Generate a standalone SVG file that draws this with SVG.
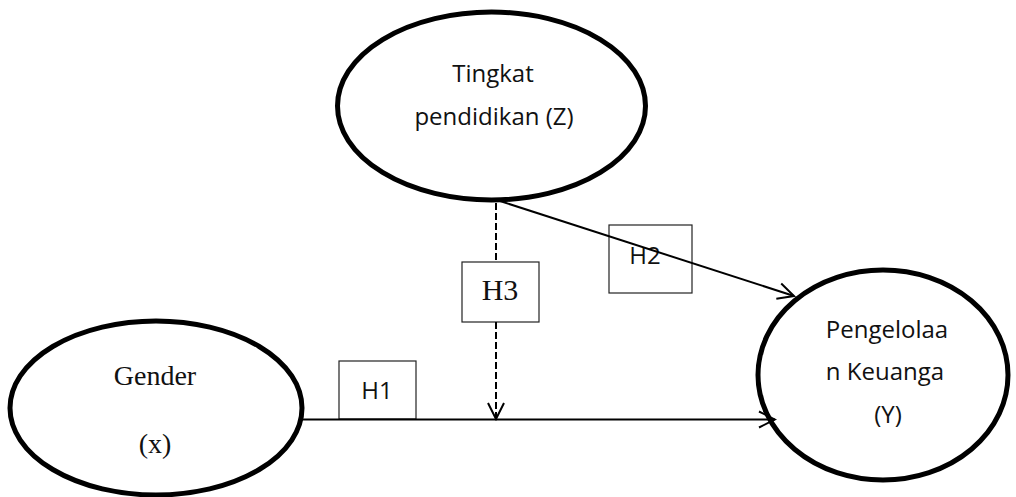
<svg xmlns="http://www.w3.org/2000/svg" width="1016" height="497" viewBox="0 0 1016 497">
<style>
.node{fill:#fff;stroke:#000;stroke-width:5}
.box{fill:#fff;stroke:#222;stroke-width:1.2}
.sans{font-family:"Open Sans","Liberation Sans",sans-serif;font-size:24px;fill:#111;text-anchor:middle}
.serif{font-family:"Liberation Serif",serif;font-size:28px;fill:#111;text-anchor:middle}
.line{stroke:#000;stroke-width:2;fill:none}
.dash{stroke-dasharray:7,3}
</style>
<defs>
<marker id="arr" viewBox="0 0 20 20" refX="18" refY="10" markerWidth="20" markerHeight="20" markerUnits="userSpaceOnUse" orient="auto">
<path d="M2,2 L18,10 L2,18" fill="none" stroke="#000" stroke-width="2"/>
</marker>
</defs>
<g id="node-z">
<ellipse class="node" cx="491.5" cy="106" rx="154" ry="94"/>
<text class="sans" x="493" y="82">Tingkat</text>
<text class="sans" x="494" y="125">pendidikan (Z)</text>
</g>
<g id="node-x">
<ellipse class="node" cx="156" cy="408" rx="146" ry="87"/>
<text class="serif" x="155" y="385">Gender</text>
<text class="serif" x="155" y="453">(x)</text>
</g>
<g id="node-y">
<ellipse class="node" cx="883" cy="375" rx="125" ry="105"/>
<text class="sans" x="887" y="338">Pengelolaa</text>
<text class="sans" x="885" y="380">n Keuanga</text>
<text class="sans" x="888" y="423">(Y)</text>
</g>
<g id="label-h1">
<rect class="box" x="339" y="361" width="77" height="58"/>
<text class="sans" x="377" y="399">H1</text>
</g>
<g id="label-h3">
<rect class="box" x="462" y="262" width="77" height="60"/>
<text class="serif" x="500" y="300" style="font-size:30px">H3</text>
</g>
<g id="label-h2">
<rect class="box" x="609" y="225" width="83" height="68"/>
<text class="sans" x="645" y="264">H2</text>
</g>
<g id="connectors">
<line class="line" x1="302" y1="419.5" x2="775" y2="419.5" marker-end="url(#arr)"/>
<line class="line dash" x1="496" y1="203" x2="496" y2="262"/>
<line class="line dash" x1="496" y1="322" x2="496" y2="419" marker-end="url(#arr)"/>
<line class="line" x1="500" y1="201" x2="794" y2="296" marker-end="url(#arr)"/>
</g>
</svg>
